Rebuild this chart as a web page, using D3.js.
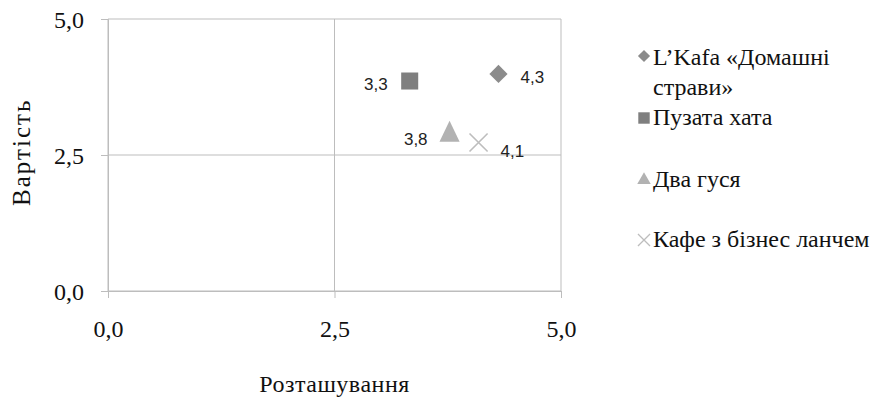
<!DOCTYPE html>
<html>
<head>
<meta charset="utf-8">
<script src="https://cdn.jsdelivr.net/npm/d3@7"></script>
<style>
  body { margin: 0; background: #fff; }
</style>
</head>
<body>
<script>
// chart data
var cafes = ["L’Kafa «Домашні страви»", "Пузата хата", "Два гуся", "Кафе з бізнес ланчем"];
var location_ = [4.31, 3.33, 3.77, 4.09];   // Розташування
var cost = [3.99, 3.86, 2.85, 2.73];       // Вартість
var tickValues = [0, 2.5, 5];

// styling per series (not data)
var symbolTypes = [d3.symbolSquare, d3.symbolSquare, d3.symbolTriangle, d3.symbolX];
var symbolColors = ["#8b8b8b", "#7f7f7f", "#b2b2b2", "#bdbdbd"];
var symbolRotate = [45, 0, 0, 0];
var symbolSizes = [165, 290, 175, 215];
var labelSide = ["right", "left", "left", "right"];

var serifFont = "'Liberation Serif', 'Times New Roman', Times, serif";
var sansFont = "'Liberation Sans', Arial, sans-serif";

var width = 881, height = 400;
var margin = {top: 19, right: 320, bottom: 109, left: 108};

var svg = d3.select("body")
            .append("svg")
            .attr("width", width)
            .attr("height", height);

// scales
var xScale = d3.scaleLinear().domain([0, 5]).range([margin.left, width - margin.right]);
var yScale = d3.scaleLinear().domain([0, 5]).range([height - margin.bottom, margin.top]);

var fmt = function(d) { return d3.format(".1f")(d).replace(".", ","); };
var gridColor = "#bdbdbd";

// gridlines
svg.append("g")
   .selectAll("line")
   .data(tickValues)
   .enter().append("line")
   .attr("x1", xScale(0)).attr("x2", xScale(5))
   .attr("y1", function(d) { return yScale(d); })
   .attr("y2", function(d) { return yScale(d); })
   .attr("stroke", gridColor);

svg.append("g")
   .selectAll("line")
   .data(tickValues)
   .enter().append("line")
   .attr("y1", yScale(0)).attr("y2", yScale(5))
   .attr("x1", function(d) { return xScale(d); })
   .attr("x2", function(d) { return xScale(d); })
   .attr("stroke", gridColor);

// x axis
var xAxis = svg.append("g")
   .attr("transform", "translate(0," + yScale(0) + ")")
   .call(d3.axisBottom(xScale).tickValues(tickValues).tickFormat(fmt).tickSize(7).tickPadding(22));

// y axis
var yAxis = svg.append("g")
   .attr("transform", "translate(" + xScale(0) + ",0)")
   .call(d3.axisLeft(yScale).tickValues(tickValues).tickFormat(fmt).tickSize(7).tickPadding(17));

[xAxis, yAxis].forEach(function(ax) {
  ax.attr("font-family", null).attr("font-size", null);
  ax.select(".domain").attr("stroke", gridColor);
  ax.selectAll(".tick line").attr("stroke", gridColor);
  ax.selectAll(".tick text")
    .style("font-family", serifFont)
    .style("font-size", "24px")
    .attr("fill", "#111");
});
yAxis.selectAll(".tick text").attr("dy", "0.35em");

// axis titles
svg.append("text")
   .attr("x", xScale(2.5))
   .attr("y", 392)
   .style("font-family", serifFont)
   .style("font-size", "24px")
   .style("letter-spacing", "0.5px")
   .style("text-anchor", "middle")
   .attr("fill", "#111")
   .text("Розташування");

svg.append("text")
   .attr("transform", "translate(30," + yScale(2.55) + ") rotate(-90)")
   .style("font-family", serifFont)
   .style("font-size", "25px")
   .style("letter-spacing", "2px")
   .style("text-anchor", "middle")
   .attr("fill", "#111")
   .text("Вартість");

// data points
var points = svg.append("g")
   .selectAll("g")
   .data(cafes)
   .enter().append("g")
   .attr("transform", function(d, i) {
     return "translate(" + xScale(location_[i]) + "," + yScale(cost[i]) + ")";
   });

points.append("path")
   .attr("d", function(d, i) { return d3.symbol().type(symbolTypes[i]).size(symbolSizes[i])(); })
   .attr("transform", function(d, i) {
     var s = symbolTypes[i] === d3.symbolTriangle ? " scale(1,1.2) translate(0,-1)" : "";
     return "rotate(" + symbolRotate[i] + ")" + s;
   })
   .attr("fill", function(d, i) { return symbolTypes[i] === d3.symbolX ? "none" : symbolColors[i]; })
   .attr("stroke", function(d, i) { return symbolTypes[i] === d3.symbolX ? symbolColors[i] : "none"; })
   .attr("stroke-width", 1.6);

// data labels (x value)
points.append("text")
   .attr("x", function(d, i) { return labelSide[i] === "left" ? -22 : 22; })
   .attr("y", function(d, i) { return i === 3 ? 9 : 3; })
   .attr("dy", "0.35em")
   .style("font-family", sansFont)
   .style("font-size", "17px")
   .attr("fill", "#222")
   .style("text-anchor", function(d, i) { return labelSide[i] === "left" ? "end" : "start"; })
   .text(function(d, i) { return fmt(Math.round(location_[i] * 10) / 10); });

// legend
var legendY = [56, 118, 180, 240];
var legend = svg.append("g")
   .selectAll("g")
   .data(cafes)
   .enter().append("g")
   .attr("transform", function(d, i) { return "translate(644," + legendY[i] + ")"; });

legend.append("path")
   .attr("d", function(d, i) { return d3.symbol().type(symbolTypes[i]).size(symbolSizes[i] * 0.45)(); })
   .attr("transform", function(d, i) { return "rotate(" + symbolRotate[i] + ")"; })
   .attr("fill", function(d, i) { return symbolTypes[i] === d3.symbolX ? "none" : symbolColors[i]; })
   .attr("stroke", function(d, i) { return symbolTypes[i] === d3.symbolX ? symbolColors[i] : "none"; })
   .attr("stroke-width", 1.3);

legend.append("text")
   .attr("x", 9)
   .attr("y", function(d, i) { return i === 0 ? 9 : 7; })
   .style("font-family", serifFont)
   .style("font-size", "24px")
   .attr("fill", "#111")
   .each(function(d, i) {
     var t = d3.select(this);
     if (i === 0) {
       t.append("tspan").attr("x", 9).text("L’Kafa «Домашні");
       t.append("tspan").attr("x", 9).attr("dy", 30).text("страви»");
     } else {
       t.text(d);
     }
   });
</script>
</body>
</html>
